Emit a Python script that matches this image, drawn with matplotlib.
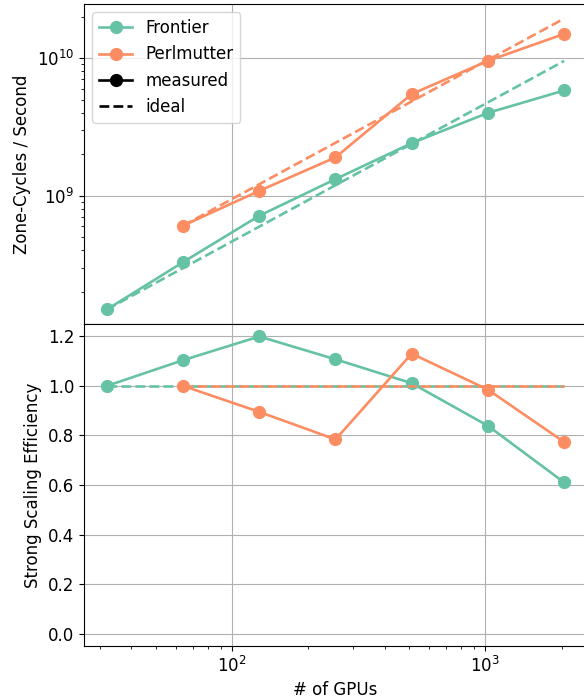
import numpy as np
import matplotlib
matplotlib.use("Agg")
import matplotlib.pyplot as plt
from matplotlib.lines import Line2D

# measured throughput (zone-cycles / second)
frontier_gpus = [32, 64, 128, 256, 512, 1024, 2048]
frontier_zcs = [1.49e8, 3.29e8, 7.15e8, 1.32e9, 2.41e9, 4.0e9, 5.82e9]

perlmutter_gpus = [64, 128, 256, 512, 1024, 2048]
perlmutter_zcs = [6.06e8, 1.085e9, 1.90e9, 5.48e9, 9.55e9, 1.5e10]

machines = ["Frontier", "Perlmutter"]
colors = ["#66c2a5", "#fc8d62"]


def main():
    plt.rcParams["font.size"] = 12
    fig = plt.figure(figsize=(5.84, 6.99), dpi=100)
    ax_top = fig.add_axes([84 / 584, 1 - 324 / 699, (587 - 84) / 584, 320 / 699])
    ax_bot = fig.add_axes([84 / 584, 1 - 646 / 699, (587 - 84) / 584, 322 / 699], sharex=ax_top)

    series = [(frontier_gpus, frontier_zcs), (perlmutter_gpus, perlmutter_zcs)]
    for name, color, (gpus, zcs) in zip(machines, colors, series):
        gpus = np.array(gpus, dtype=float)
        zcs = np.array(zcs)
        ideal = zcs[0] * gpus / gpus[0]
        eff = zcs / ideal

        ax_top.plot(gpus, zcs, "-o", color=color, ms=8.5, lw=1.9, label=name)
        ax_top.plot(gpus, ideal, "--", color=color, lw=1.9)

        ax_bot.plot(gpus, eff, "-o", color=color, ms=8.5, lw=1.9)
        ax_bot.plot(gpus, np.ones_like(gpus), "--", color=color, lw=1.9)

    ax_top.set_xscale("log")
    ax_top.set_yscale("log")
    ax_top.set_ylabel("Zone-Cycles / Second")
    ax_top.grid(True, which="major")
    ax_top.tick_params(labelbottom=False)

    handles, labels = ax_top.get_legend_handles_labels()
    handles += [Line2D([], [], color="k", marker="o", ms=8.5, lw=1.9),
                Line2D([], [], color="k", ls="--", lw=1.9)]
    labels += ["measured", "ideal"]
    ax_top.legend(handles, labels, loc="upper left")

    ax_bot.set_ylim(-0.05, 1.25)
    ax_bot.set_yticks(np.arange(0, 1.21, 0.2))
    ax_bot.set_ylabel("Strong Scaling Efficiency")
    ax_bot.set_xlabel("# of GPUs")
    ax_bot.grid(True, which="major")

    fig.savefig("out.png", dpi=100)


if __name__ == "__main__":
    main()
